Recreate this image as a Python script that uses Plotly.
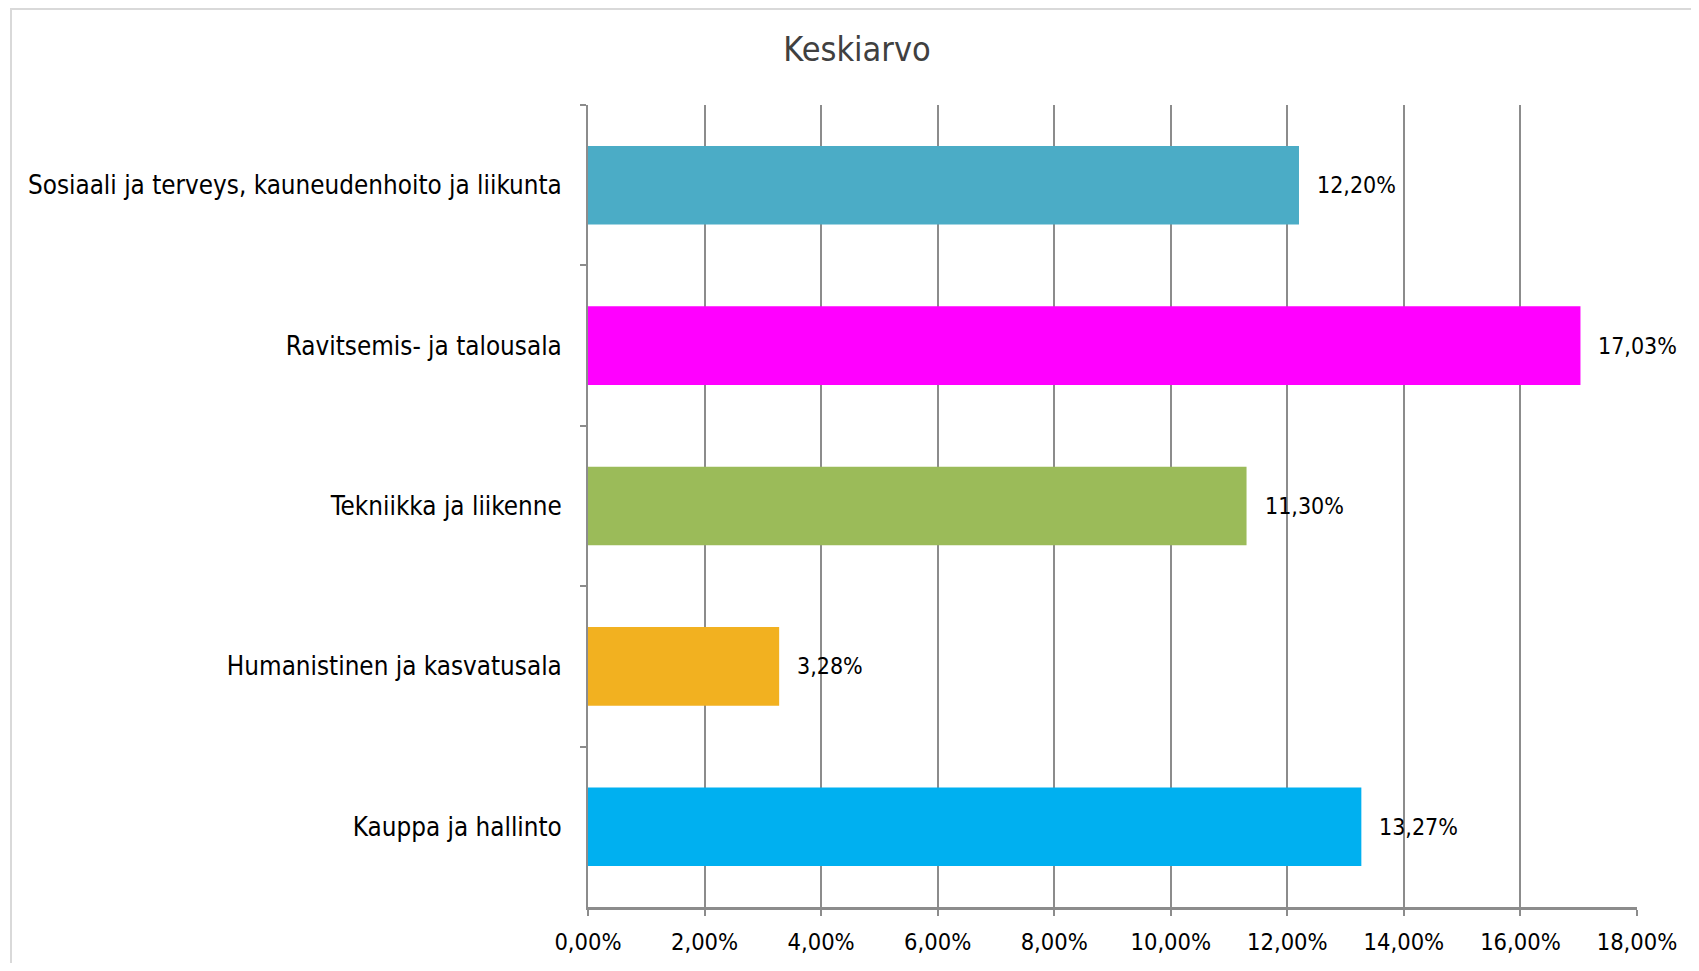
import plotly.graph_objects as go

categories = [
    "Sosiaali ja terveys, kauneudenhoito ja liikunta",
    "Ravitsemis- ja talousala",
    "Tekniikka ja liikenne",
    "Humanistinen ja kasvatusala",
    "Kauppa ja hallinto",
]
values = [12.20, 17.03, 11.30, 3.28, 13.27]
colors = ["#4BACC6", "#FF00FF", "#9BBB59", "#F2B120", "#00B0F0"]
tick_vals = [0, 2, 4, 6, 8, 10, 12, 14, 16, 18]
title_text = "Keskiarvo"


def fmt(v):
    return f"{v:.2f}%".replace(".", ",")


FONT = "DejaVu Sans Condensed, DejaVu Sans, sans-serif"
GRID = "#8C8C8C"

W, H = 1683, 955
L, T, PW, PH = 580, 97, 1049, 802

fig = go.Figure()
fig.add_trace(go.Bar(
    x=values, y=categories, orientation="h",
    marker=dict(color=colors, line=dict(width=0)),
    hoverinfo="skip",
))

for v, c in zip(values, categories):
    fig.add_annotation(
        x=v, y=c, xref="x", yref="y",
        text=fmt(v),
        showarrow=False, xanchor="left", xshift=16,
        font=dict(family=FONT, size=23, color="#000000"),
    )

fig.update_layout(
    width=W, height=H,
    margin=dict(l=L, r=W - L - PW, t=T, b=H - T - PH, autoexpand=False),
    paper_bgcolor="white", plot_bgcolor="white",
    bargap=0.51,
    showlegend=False,
    title=dict(text=title_text, x=849 / W, xanchor="center", y=1 - 41 / H, yanchor="middle",
               font=dict(family=FONT, size=34, color="#404040")),
    font=dict(family=FONT, size=22, color="#000000"),
    xaxis=dict(
        range=[0, 18], tickvals=tick_vals, ticktext=[fmt(t) for t in tick_vals],
        showgrid=True, gridcolor=GRID, gridwidth=2,
        showline=True, linecolor=GRID, linewidth=3,
        ticks="outside", ticklen=6, tickcolor=GRID, tickwidth=2,
        ticklabelstandoff=6, automargin=False,
        zeroline=False, fixedrange=True,
        tickfont=dict(family=FONT, size=23.5, color="#000000"),
    ),
    yaxis=dict(
        autorange="reversed", type="category",
        showgrid=False, showline=True, linecolor=GRID, linewidth=2,
        ticks="outside", ticklen=6, tickcolor=GRID, tickwidth=2,
        tickson="boundaries", ticklabelstandoff=19, automargin=False,
        tickfont=dict(family=FONT, size=25.8, color="#000000"),
    ),
    shapes=[dict(type="rect", xref="paper", yref="paper",
                 x0=(3 - L) / PW, x1=1.3, y0=-0.3, y1=1 + (T - 1) / PH,
                 line=dict(color="#D9D9D9", width=2), fillcolor="rgba(0,0,0,0)", layer="below")],
)

fig.write_html("out.html")
